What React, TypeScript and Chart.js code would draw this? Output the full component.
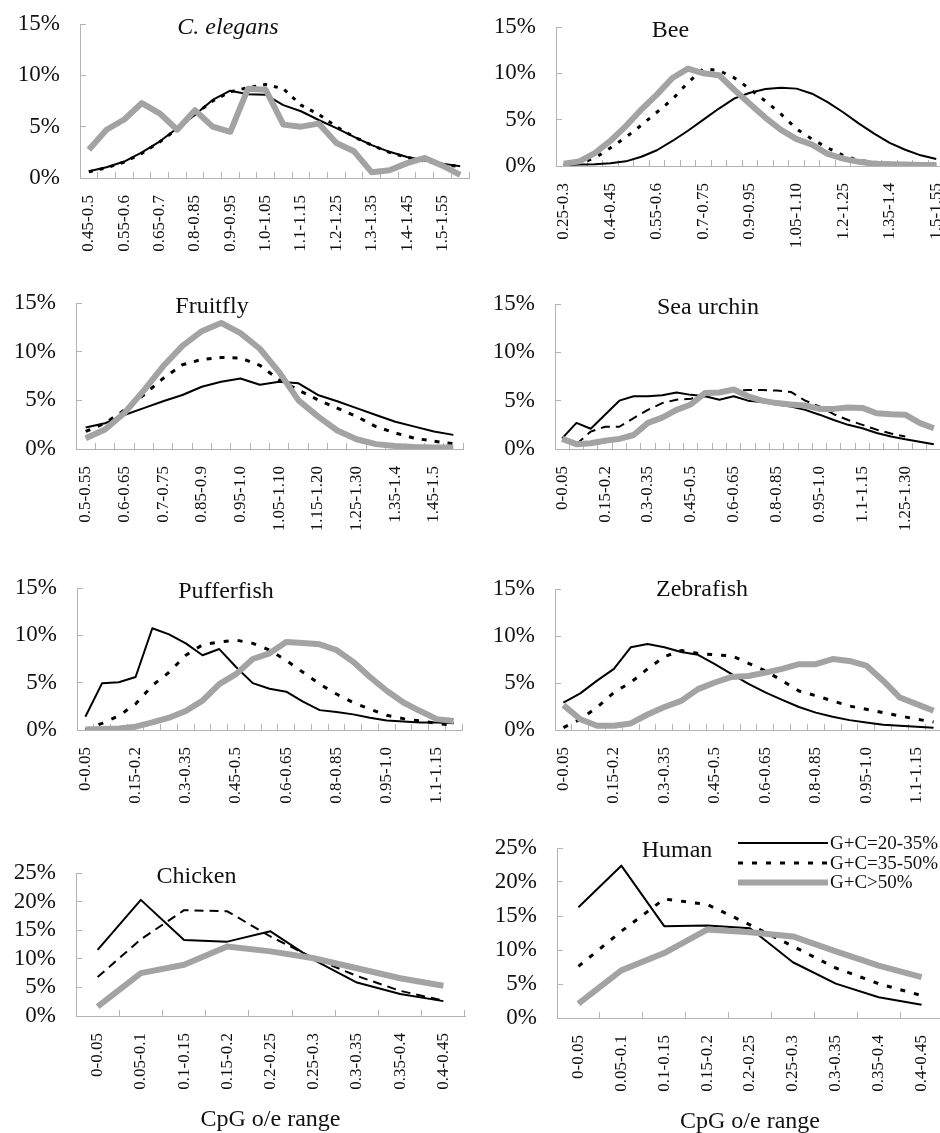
import React, { useEffect, useRef } from 'react';
import { Chart, registerables } from 'chart.js';

Chart.register(...registerables);

// ---------- text ----------
const SERIES_LABELS = ['G+C=20-35%', 'G+C=35-50%', 'G+C>50%'];
const X_AXIS_TITLE = 'CpG o/e range';

// ---------- categories ----------
const CE_RANGES = ['0.45-0.5', '0.5-0.55', '0.55-0.6', '0.6-0.65', '0.65-0.7', '0.7-0.8', '0.8-0.85', '0.85-0.9', '0.9-0.95', '0.95-1.0', '1.0-1.05', '1.05-1.1', '1.1-1.15', '1.15-1.2', '1.2-1.25', '1.25-1.3', '1.3-1.35', '1.35-1.4', '1.4-1.45', '1.45-1.5', '1.5-1.55', '1.55-1.6'];
const BEE_RANGES = ['0.25-0.3', '0.3-0.35', '0.35-0.4', '0.4-0.45', '0.45-0.5', '0.5-0.55', '0.55-0.6', '0.6-0.65', '0.65-0.7', '0.7-0.75', '0.75-0.8', '0.8-0.9', '0.9-0.95', '0.95-1.0', '1.0-1.05', '1.05-1.10', '1.10-1.15', '1.15-1.2', '1.2-1.25', '1.25-1.3', '1.3-1.35', '1.35-1.4', '1.4-1.45', '1.45-1.5', '1.5-1.55'];
const FLY_RANGES = ['0.5-0.55', '0.55-0.6', '0.6-0.65', '0.65-0.7', '0.7-0.75', '0.75-0.85', '0.85-0.9', '0.9-0.95', '0.95-1.0', '1.0-1.05', '1.05-1.10', '1.10-1.15', '1.15-1.20', '1.20-1.25', '1.25-1.30', '1.30-1.35', '1.35-1.4', '1.4-1.45', '1.45-1.5', '1.5-1.55'];
const URCHIN_RANGES = ['0-0.05', '0.05-0.1', '0.1-0.15', '0.15-0.2', '0.2-0.25', '0.25-0.3', '0.3-0.35', '0.35-0.4', '0.4-0.45', '0.45-0.5', '0.5-0.55', '0.55-0.6', '0.6-0.65', '0.65-0.7', '0.7-0.8', '0.8-0.85', '0.85-0.9', '0.9-0.95', '0.95-1.0', '1.0-1.05', '1.05-1.1', '1.1-1.15', '1.15-1.2', '1.2-1.25', '1.25-1.30', '1.30-1.35', '1.35-1.40'];
const FISH_RANGES = ['0-0.05', '0.05-0.1', '0.1-0.15', '0.15-0.2', '0.2-0.25', '0.25-0.3', '0.3-0.35', '0.35-0.4', '0.4-0.45', '0.45-0.5', '0.5-0.55', '0.55-0.6', '0.6-0.65', '0.65-0.7', '0.7-0.8', '0.8-0.85', '0.85-0.9', '0.9-0.95', '0.95-1.0', '1.0-1.05', '1.05-1.1', '1.1-1.15', '1.15-1.2'];
const BIRD_RANGES = ['0-0.05', '0.05-0.1', '0.1-0.15', '0.15-0.2', '0.2-0.25', '0.25-0.3', '0.3-0.35', '0.35-0.4', '0.4-0.45'];

// ---------- series (percent) ----------
const CE_LOW = [0.65, 1.05, 1.6, 2.5, 3.55, 4.85, 6.15, 7.6, 8.5, 8.15, 8.1, 7.1, 6.5, 5.65, 4.85, 4.0, 3.2, 2.55, 2.05, 1.7, 1.4, 1.15];
const CE_MID = [0.6, 1.0, 1.55, 2.4, 3.5, 4.8, 6.2, 7.5, 8.4, 8.8, 9.1, 8.7, 7.1, 6.2, 5.0, 4.0, 3.2, 2.5, 2.0, 1.65, 1.35, 1.1];
const CE_HIGH = [2.75, 4.7, 5.7, 7.3, 6.3, 4.7, 6.6, 5.0, 4.5, 8.7, 8.6, 5.2, 5.0, 5.3, 3.4, 2.6, 0.55, 0.75, 1.45, 1.95, 1.2, 0.3];

const BEE_LOW = [0.1, 0.15, 0.2, 0.3, 0.5, 1.0, 1.7, 2.7, 3.8, 5.0, 6.2, 7.3, 7.9, 8.3, 8.45, 8.35, 7.8, 6.9, 5.8, 4.6, 3.5, 2.5, 1.75, 1.15, 0.75];
const BEE_MID = [0.2, 0.3, 0.85, 1.95, 3.1, 4.4, 5.8, 7.2, 9.0, 10.5, 10.3, 9.5, 8.3, 7.0, 5.6, 4.0, 2.9, 1.95, 1.15, 0.6, 0.4, 0.3, 0.2, 0.15, 0.1];
const BEE_HIGH = [0.25, 0.5, 1.4, 2.7, 4.3, 6.1, 7.7, 9.5, 10.5, 10.0, 9.8, 8.2, 6.7, 5.2, 3.9, 2.9, 2.3, 1.3, 0.8, 0.45, 0.25, 0.2, 0.15, 0.1, 0.1];

const FLY_LOW = [2.2, 2.65, 3.5, 4.2, 4.9, 5.55, 6.4, 6.9, 7.25, 6.6, 6.9, 6.75, 5.55, 4.9, 4.2, 3.5, 2.8, 2.3, 1.8, 1.45];
const FLY_MID = [1.8, 2.65, 4.0, 5.55, 7.25, 8.65, 9.2, 9.4, 9.35, 8.6, 7.1, 6.05, 5.05, 4.2, 3.35, 2.3, 1.65, 1.1, 0.8, 0.55];
const FLY_HIGH = [1.1, 2.0, 3.7, 6.0, 8.5, 10.6, 12.1, 12.95, 11.9, 10.3, 7.9, 5.0, 3.35, 1.9, 1.0, 0.5, 0.3, 0.2, 0.15, 0.15];

const URCHIN_LOW = [1.1, 2.7, 2.1, 3.55, 5.0, 5.45, 5.45, 5.55, 5.85, 5.6, 5.45, 5.1, 5.45, 5.0, 4.85, 4.6, 4.4, 4.05, 3.55, 3.0, 2.5, 2.15, 1.65, 1.3, 1.0, 0.75, 0.5];
const URCHIN_MID = [1.0, 0.5, 1.8, 2.3, 2.3, 3.2, 4.05, 4.75, 5.1, 5.2, 5.45, 6.0, 6.0, 6.1, 6.1, 6.05, 5.9, 5.0, 4.4, 3.6, 3.0, 2.5, 2.0, 1.6, 1.3, null, null];
const URCHIN_HIGH = [1.05, 0.5, 0.6, 0.85, 1.05, 1.45, 2.7, 3.25, 4.05, 4.6, 5.8, 5.85, 6.15, 5.45, 5.0, 4.75, 4.6, 4.5, 4.15, 4.15, 4.3, 4.25, 3.7, 3.6, 3.55, 2.7, 2.15];

const PUFFER_LOW = [1.4, 4.95, 5.05, 5.6, 10.75, 10.1, 9.15, 7.9, 8.55, 6.65, 4.95, 4.35, 4.05, 3.0, 2.1, 1.9, 1.65, 1.3, 1.0, 0.9, 0.8, 0.8, 0.7];
const PUFFER_MID = [0.05, 0.7, 1.5, 2.75, 4.7, 6.1, 7.9, 9.0, 9.3, 9.5, 9.15, 8.45, 7.35, 6.1, 4.85, 3.8, 2.9, 2.2, 1.55, 1.2, 0.95, 0.7, 0.5];
const PUFFER_HIGH = [0.05, 0.1, 0.15, 0.35, 0.8, 1.3, 2.0, 3.1, 4.85, 5.9, 7.5, 8.1, 9.3, 9.2, 9.05, 8.45, 7.2, 5.6, 4.15, 2.9, 2.0, 1.15, 0.95];

const ZEBRA_LOW = [2.9, 3.9, 5.25, 6.5, 8.8, 9.15, 8.8, 8.3, 8.0, 7.0, 5.95, 4.9, 4.0, 3.2, 2.45, 1.85, 1.4, 1.05, 0.8, 0.55, 0.45, 0.35, 0.25];
const ZEBRA_MID = [0.25, 1.15, 2.4, 4.0, 5.05, 6.5, 7.8, 8.45, 8.15, 8.0, 7.9, 7.1, 6.3, 5.25, 4.15, 3.65, 3.1, 2.55, 2.2, 1.85, 1.5, 1.15, 0.85];
const ZEBRA_HIGH = [2.65, 1.15, 0.45, 0.45, 0.7, 1.65, 2.45, 3.1, 4.35, 5.05, 5.65, 5.75, 6.1, 6.5, 7.0, 7.0, 7.55, 7.35, 6.85, 5.25, 3.45, 2.75, 2.05];

const CHICKEN_LOW = [11.55, 20.3, 13.3, 13.0, 14.8, 9.8, 5.85, 3.85, 2.6];
const CHICKEN_MID = [6.8, 13.4, 18.5, 18.3, 13.9, 10.1, 7.0, 4.4, 2.7];
const CHICKEN_HIGH = [1.65, 7.5, 8.95, 12.15, 11.3, 10.1, 8.35, 6.6, 5.3];

const HUMAN_LOW = [16.3, 22.4, 13.5, 13.6, 13.2, 8.2, 5.05, 3.05, 1.95];
const HUMAN_MID = [7.6, 12.75, 17.5, 16.7, 13.7, 10.55, 7.35, 5.05, 3.3];
const HUMAN_HIGH = [2.1, 7.0, 9.55, 13.0, 12.6, 12.0, 9.8, 7.7, 6.0];

// ---------- panel definitions ----------
const PANELS = [
  { title: 'C. elegans', italic: true, categories: CE_RANGES, series: [CE_LOW, CE_MID, CE_HIGH], labelEvery: 2, yMax: 15 },
  { title: 'Bee', italic: false, categories: BEE_RANGES, series: [BEE_LOW, BEE_MID, BEE_HIGH], labelEvery: 3, yMax: 15 },
  { title: 'Fruitfly', italic: false, categories: FLY_RANGES, series: [FLY_LOW, FLY_MID, FLY_HIGH], labelEvery: 2, yMax: 15 },
  { title: 'Sea urchin', italic: false, categories: URCHIN_RANGES, series: [URCHIN_LOW, URCHIN_MID, URCHIN_HIGH], labelEvery: 3, yMax: 15 },
  { title: 'Pufferfish', italic: false, categories: FISH_RANGES, series: [PUFFER_LOW, PUFFER_MID, PUFFER_HIGH], labelEvery: 3, yMax: 15 },
  { title: 'Zebrafish', italic: false, categories: FISH_RANGES, series: [ZEBRA_LOW, ZEBRA_MID, ZEBRA_HIGH], labelEvery: 3, yMax: 15 },
  { title: 'Chicken', italic: false, categories: BIRD_RANGES, series: [CHICKEN_LOW, CHICKEN_MID, CHICKEN_HIGH], labelEvery: 1, yMax: 25 },
  { title: 'Human', italic: false, categories: BIRD_RANGES, series: [HUMAN_LOW, HUMAN_MID, HUMAN_HIGH], labelEvery: 1, yMax: 25 },
];

// ---------- layout / style (page pixels) ----------
const LAYOUT = [
  { L: 80, R: 469, T: 24, B: 178, titleDx: 148, titleDy: 9.5, dash: [4, 7], dashW: 3 },
  { L: 556, R: 944, T: 27, B: 166, titleDx: 114.5, titleDy: 10, dash: [4, 8], dashW: 3 },
  { L: 76, R: 463, T: 303, B: 449, titleDx: 136, titleDy: 10, dash: [5, 8], dashW: 3 },
  { L: 555, R: 941, T: 304, B: 449, titleDx: 153, titleDy: 9.5, dash: [9, 6], dashW: 2 },
  { L: 77, R: 462, T: 588, B: 730, titleDx: 149, titleDy: 9.5, dash: [5, 9], dashW: 3 },
  { L: 555, R: 942, T: 589, B: 730, titleDx: 147, titleDy: 7, dash: [5, 9], dashW: 3 },
  { L: 76, R: 465, T: 873, B: 1016, titleDx: 120.5, titleDy: 9.5, dash: [9, 6], dashW: 2, axisTitle: true },
  { L: 557, R: 943, T: 848, B: 1018, titleDx: 120, titleDy: 8.5, dash: [5, 9], dashW: 3, axisTitle: true, legend: true },
];

const FONT = '"Liberation Serif", "Times New Roman", serif';
const AXIS_COLOR = '#b3b3b3';
const TEXT_COLOR = '#111';
const GRAY = '#a3a3a3';
const PAD_TOP = 30;
const PAD_RIGHT = 4;
const Y_W = 80;

function PanelChart({ def, box }: { def: any; box: any }) {
  const ref = useRef<HTMLCanvasElement | null>(null);
  const xH = box.axisTitle ? 122 : 110;
  const width = Math.round(Y_W + (box.R - box.L) + PAD_RIGHT);
  const height = Math.round(PAD_TOP + (box.B - box.T) + xH);

  useEffect(() => {
    if (!ref.current) return;
    const styles = [
      { color: '#000', width: 2, dash: [] as number[], order: 2 },
      { color: '#000', width: box.dashW, dash: box.dash, order: 1 },
      { color: GRAY, width: 6, dash: [] as number[], order: 0 },
    ];
    const decor = {
      id: 'decor',
      afterDraw(chart: any) {
        const { ctx, chartArea: a } = chart;
        ctx.save();
        ctx.fillStyle = TEXT_COLOR;
        ctx.textBaseline = 'alphabetic';
        ctx.textAlign = 'center';
        ctx.font = `${def.italic ? 'italic ' : ''}24px ${FONT}`;
        ctx.fillText(def.title, a.left + box.titleDx, a.top + box.titleDy);
        if (box.axisTitle) {
          ctx.font = `24px ${FONT}`;
          ctx.fillText(X_AXIS_TITLE, (a.left + a.right) / 2, a.bottom + 110);
        }
        if (box.legend) {
          const rows = [-5, 15, 34.5];
          ctx.font = `19px ${FONT}`;
          ctx.textAlign = 'left';
          ctx.textBaseline = 'middle';
          rows.forEach((dy, i) => {
            const y = a.top + dy;
            ctx.beginPath();
            ctx.strokeStyle = styles[i].color;
            ctx.lineWidth = styles[i].width;
            ctx.setLineDash(styles[i].dash);
            ctx.moveTo(a.left + 181, y);
            ctx.lineTo(a.left + 271, y);
            ctx.stroke();
            ctx.setLineDash([]);
            ctx.fillStyle = TEXT_COLOR;
            ctx.fillText(SERIES_LABELS[i], a.left + 273, y + 1);
          });
        }
        ctx.restore();
      },
    };

    const chart = new Chart(ref.current, {
      type: 'line',
      data: {
        labels: def.categories,
        datasets: def.series.map((s: any, i: number) => ({
          label: SERIES_LABELS[i],
          data: s,
          borderColor: styles[i].color,
          backgroundColor: styles[i].color,
          borderWidth: styles[i].width,
          borderDash: styles[i].dash,
          order: styles[i].order,
          pointRadius: 0,
          pointHoverRadius: 0,
          tension: 0,
          fill: false,
          borderJoinStyle: 'round',
        })),
      },
      options: {
        responsive: false,
        animation: false,
        devicePixelRatio: 1,
        events: [],
        layout: { padding: { top: PAD_TOP, right: PAD_RIGHT, left: 0, bottom: 0 } },
        plugins: { legend: { display: false }, tooltip: { enabled: false }, title: { display: false } },
        scales: {
          x: {
            type: 'category',
            offset: true,
            grid: { offset: true, drawOnChartArea: false, drawTicks: true, tickLength: -6, color: AXIS_COLOR, lineWidth: 1 },
            border: { display: true, color: AXIS_COLOR, width: 1 },
            ticks: {
              autoSkip: false,
              minRotation: 90,
              maxRotation: 90,
              padding: 23,
              color: TEXT_COLOR,
              font: { family: FONT, size: 17 },
              callback: (_v: any, i: number) => (i % def.labelEvery === 0 ? def.categories[i] : ''),
            },
            afterFit: (s: any) => {
              s.height = xH;
              s.paddingLeft = 0;
              s.paddingRight = 0;
            },
          },
          y: {
            min: 0,
            max: def.yMax,
            grid: { drawOnChartArea: false, drawTicks: true, tickLength: -6, color: AXIS_COLOR, lineWidth: 1 },
            border: { display: true, color: AXIS_COLOR, width: 1 },
            ticks: {
              stepSize: 5,
              autoSkip: false,
              padding: 26,
              color: TEXT_COLOR,
              font: { family: FONT, size: 23 },
              callback: (v: any) => `${v}%`,
            },
            afterFit: (s: any) => {
              s.width = Y_W;
              s.paddingTop = 0;
              s.paddingBottom = 0;
            },
          },
        },
      } as any,
      plugins: [decor],
    });
    return () => chart.destroy();
  }, []);

  return (
    <canvas
      ref={ref}
      width={width}
      height={height}
      style={{ position: 'absolute', left: box.L - Y_W, top: box.T - PAD_TOP, width, height }}
    />
  );
}

export default function App() {
  return (
    <div style={{ position: 'absolute', left: 0, top: 0, width: 940, height: 1133, overflow: 'hidden', background: '#fff' }}>
      {PANELS.map((p, i) => (
        <PanelChart key={i} def={p} box={LAYOUT[i]} />
      ))}
    </div>
  );
}
